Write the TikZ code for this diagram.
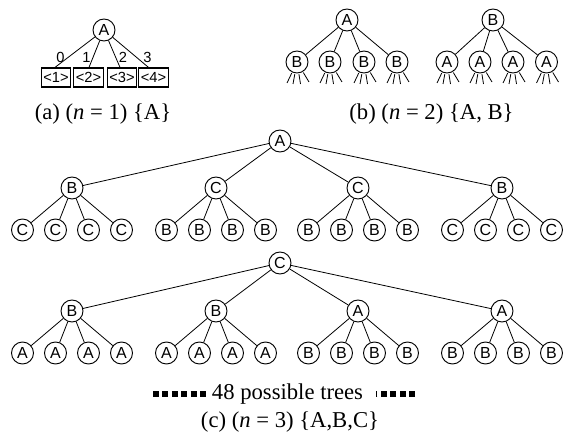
\documentclass[tikz,border=0pt]{standalone}
\usepackage{fontspec}
\setmainfont{Liberation Serif}
\newfontfamily\labelfont{Liberation Sans}
\usetikzlibrary{calc}
\tikzset{
  tnode/.style={circle, draw, line width=0.7pt, minimum size=16.5pt, inner sep=0pt,
    font=\labelfont\fontsize{12}{13}\selectfont},
  tedge/.style={line width=0.6pt},
  stub/.style={line width=0.6pt, shorten <=0.6pt},
  slot/.style={draw, line width=0.9pt, minimum width=22.1pt, minimum height=14.25pt,
    inner sep=0pt, font=\labelfont\fontsize{11}{12}\selectfont},
  elabel/.style={font=\labelfont\fontsize{11}{12}\selectfont, inner sep=0pt},
  caption/.style={font=\fontsize{17}{20}\selectfont, anchor=base, inner sep=0pt},
  dotrule/.style={line width=4.1pt, dash pattern=on 4.5pt off 2.55pt},
}
\begin{document}
\begin{tikzpicture}[x=0.75pt, y=-0.75pt]
\useasboundingbox (0,0) rectangle (567,441);

% ---- (a) one symbol, four slots
\node[tnode] (a0) at (104,30) {A};
\foreach \i/\x in {1/56,2/88.5,3/122,4/153.5}
  \node[slot] (s\i) at (\x,77.5) {<\i>};
\draw[tedge] (a0) -- ($(s1.north)+(-1,0)$);
\draw[tedge] (a0) -- ($(s2.north)+(0.5,0)$);
\draw[tedge] (a0) -- ($(s3.north)+(-2,0)$);
\draw[tedge] (a0) -- ($(s4.north)+(-5,0)$);
\node[elabel] (l0) at (60.5,57) {0};
\node[elabel] (l1) at (86.5,57) {1};
\node[elabel] (l2) at (123,57) {2};
\node[elabel] (l3) at (147.5,57) {3};
\node[caption] (capa) at (103,120) {(a) (\textit{n} = 1) \{A\}};

% ---- (b) two symbols, two levels
\node[tnode] (bl) at (347,20) {A};
\node[tnode] (br) at (493,20) {B};
\foreach \k/\x in {1/297,2/330,3/364,4/397} {
  \node[tnode] (bl\k) at (\x,62) {B};
  \draw[tedge] (bl) -- (bl\k);
  \draw[stub] (bl\k) -- ++(-10,21);
  \draw[stub] (bl\k) -- ++(-4,22);
  \draw[stub] (bl\k) -- ++(3.5,22);
  \draw[stub] (bl\k) -- ++(12,20);
}
\foreach \k/\x in {1/447,2/480,3/513,4/546.5} {
  \node[tnode] (br\k) at (\x,62) {A};
  \draw[tedge] (br) -- (br\k);
  \draw[stub] (br\k) -- ++(-10,21);
  \draw[stub] (br\k) -- ++(-4,22);
  \draw[stub] (br\k) -- ++(3.5,22);
  \draw[stub] (br\k) -- ++(12,20);
}
\node[caption] (capb) at (431.5,120) {(b) (\textit{n} = 2) \{A, B\}};

% ---- (c) three symbols, three levels
\node[tnode] (t) at (280,141) {A};
\foreach \k/\x/\p/\c in {1/72/B/C, 2/216/C/B, 3/358/C/B, 4/502/B/C} {
  \node[tnode] (t\k) at (\x,188) {\p};
  \draw[tedge] (t) -- (t\k);
  \foreach \j/\dx in {1/-49.5,2/-16.5,3/16.5,4/49.5} {
    \node[tnode] (t\k\j) at ({\x+\dx},230) {\c};
    \draw[tedge] (t\k) -- (t\k\j);
  }
}
\node[tnode] (u) at (280,263) {C};
\foreach \k/\x/\p/\c in {1/72/B/A, 2/216/B/A, 3/358/A/B, 4/502/A/B} {
  \node[tnode] (u\k) at (\x,311) {\p};
  \draw[tedge] (u) -- (u\k);
  \foreach \j/\dx in {1/-49.5,2/-16.5,3/16.5,4/49.5} {
    \node[tnode] (u\k\j) at ({\x+\dx},353) {\c};
    \draw[tedge] (u\k) -- (u\k\j);
  }
}

\node[caption] (more) at (287.5,399) {48 possible trees};
\coordinate (ml0) at (153,394);
\coordinate (ml1) at (206,394);
\coordinate (mr0) at (415,394);
\coordinate (mr1) at (376,394);
\draw[dotrule] (ml0) -- (ml1);
\draw[dotrule] (mr0) -- (mr1);
\node[caption] (capc) at (290,427) {(c) (\textit{n} = 3) \{A,B,C\}};
\end{tikzpicture}
\end{document}
